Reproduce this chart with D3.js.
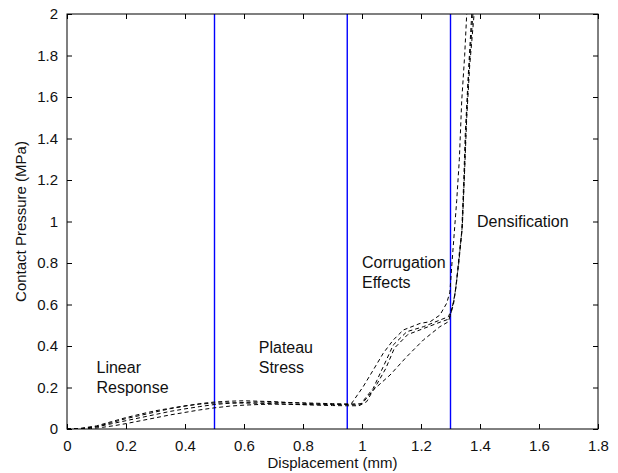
<!DOCTYPE html>
<html>
<head>
<meta charset="utf-8">
<script src="https://cdn.jsdelivr.net/npm/d3@7/dist/d3.min.js"></script>
<style>
  html, body { margin: 0; padding: 0; background: #fff; }
  svg { display: block; }
  text { font-family: "Liberation Sans", Arial, sans-serif; fill: #111; }
</style>
</head>
<body>
<svg id="chart" width="618" height="473"></svg>
<script>
// ---------------- data ----------------
const xTicks = [0, 0.2, 0.4, 0.6, 0.8, 1, 1.2, 1.4, 1.6, 1.8];
const yTicks = [0, 0.2, 0.4, 0.6, 0.8, 1, 1.2, 1.4, 1.6, 1.8, 2];
const phaseBounds = [0.5, 0.95, 1.3];

const curve1X = [0,0.05,0.1,0.15,0.2,0.25,0.3,0.35,0.4,0.45,0.5,0.55,0.6,0.65,0.7,0.75,0.8,0.85,0.9,0.95,0.965,1.004,1.038,1.072,1.106,1.14,1.197,1.231,1.264,1.287,1.298,1.305,1.313,1.321,1.33,1.338,1.348,1.355];
const curve1Y = [0,0.002,0.012,0.03,0.05,0.066,0.082,0.098,0.11,0.122,0.13,0.134,0.136,0.134,0.132,0.128,0.126,0.124,0.122,0.12,0.124,0.204,0.284,0.365,0.429,0.477,0.509,0.517,0.549,0.606,0.66,0.8,0.95,1.1,1.3,1.58,1.8,2.0];

const curve2X = [0,0.06,0.1,0.15,0.2,0.25,0.3,0.35,0.4,0.45,0.5,0.55,0.6,0.65,0.7,0.75,0.8,0.85,0.9,0.95,0.993,1.038,1.072,1.106,1.152,1.208,1.264,1.293,1.31,1.32,1.33,1.338,1.345,1.35,1.36,1.372];
const curve2Y = [0,0.003,0.01,0.025,0.04,0.055,0.07,0.085,0.097,0.108,0.118,0.124,0.128,0.13,0.129,0.127,0.124,0.121,0.12,0.118,0.116,0.196,0.3,0.405,0.469,0.493,0.525,0.541,0.6,0.7,0.85,0.95,1.2,1.42,1.7,2.0];

const curve3X = [0,0.08,0.12,0.16,0.2,0.25,0.3,0.35,0.4,0.45,0.5,0.55,0.6,0.65,0.7,0.75,0.8,0.85,0.9,0.95,0.99,1.016,1.038,1.095,1.152,1.208,1.264,1.293,1.304,1.315,1.328,1.34,1.348,1.355,1.365,1.38];
const curve3Y = [0,0.002,0.008,0.016,0.026,0.04,0.054,0.068,0.08,0.092,0.102,0.11,0.115,0.118,0.12,0.119,0.117,0.115,0.113,0.112,0.112,0.132,0.188,0.26,0.349,0.429,0.493,0.517,0.573,0.65,0.8,0.98,1.25,1.5,1.75,2.0];

const curve4X = [0,0.04,0.1,0.15,0.2,0.25,0.3,0.35,0.4,0.45,0.5,0.55,0.6,0.65,0.7,0.75,0.8,0.85,0.9,0.95,1.0,1.04,1.08,1.11,1.155,1.21,1.265,1.295,1.308,1.318,1.33,1.34,1.347,1.353,1.362,1.376];
const curve4Y = [0,0.002,0.015,0.035,0.055,0.072,0.088,0.1,0.112,0.12,0.125,0.126,0.125,0.124,0.122,0.12,0.118,0.117,0.118,0.12,0.122,0.19,0.29,0.39,0.455,0.485,0.515,0.53,0.59,0.68,0.83,0.97,1.22,1.46,1.72,2.0];

const annotations = [
  { lines: ["Linear", "Response"], x: 0.1, y: 0.27 },
  { lines: ["Plateau", "Stress"], x: 0.65, y: 0.365 },
  { lines: ["Corrugation", "Effects"], x: 1.0, y: 0.775 },
  { lines: ["Densification"], x: 1.39, y: 0.975 }
];

// ---------------- layout ----------------
const svg = d3.select("#chart");
const L = 67, R = 598, T = 14, B = 429;
const x = d3.scaleLinear().domain([0, 1.8]).range([L, R]);
const y = d3.scaleLinear().domain([0, 2]).range([B, T]);

svg.append("defs").append("clipPath").attr("id", "plotclip")
  .append("rect").attr("x", L).attr("y", T).attr("width", R - L).attr("height", B - T);

// axes (ticks inside on all sides)
const fmt = d => (d === 0 ? "0" : d3.format("~g")(d));
const gx = svg.append("g").attr("transform", `translate(0,${B})`)
  .call(d3.axisBottom(x).tickValues(xTicks).tickFormat(fmt).tickSizeInner(-5).tickSizeOuter(0).tickPadding(11));
const gy = svg.append("g").attr("transform", `translate(${L},0)`)
  .call(d3.axisLeft(y).tickValues(yTicks).tickFormat(fmt).tickSizeInner(-5).tickSizeOuter(0).tickPadding(9));
const gt = svg.append("g").attr("transform", `translate(0,${T})`)
  .call(d3.axisTop(x).tickValues(xTicks).tickFormat("").tickSizeInner(-5).tickSizeOuter(0));
const gr = svg.append("g").attr("transform", `translate(${R},0)`)
  .call(d3.axisRight(y).tickValues(yTicks).tickFormat("").tickSizeInner(-5).tickSizeOuter(0));
[gx, gy, gt, gr].forEach(g => {
  g.select(".domain").remove();
  g.selectAll("line").attr("stroke", "#000").attr("stroke-width", 1);
  g.selectAll("text").attr("font-size", 15).attr("fill", "#111")
    .attr("font-family", '"Liberation Sans", Arial, sans-serif');
});

// phase boundary lines
svg.append("g").selectAll("line").data(phaseBounds).join("line")
  .attr("x1", d => x(d)).attr("x2", d => x(d))
  .attr("y1", y(2)).attr("y2", y(0))
  .attr("stroke", "#0000ff").attr("stroke-width", 1.4);

// curves
const curves = [[curve1X, curve1Y], [curve2X, curve2Y], [curve3X, curve3Y], [curve4X, curve4Y]];
const line = d3.line().x(d => x(d[0])).y(d => y(d[1]));
svg.append("g").attr("clip-path", "url(#plotclip)")
  .selectAll("path").data(curves).join("path")
  .attr("d", c => line(c[0].map((v, i) => [v, c[1][i]])))
  .attr("fill", "none").attr("stroke", "#000").attr("stroke-width", 1)
  .attr("stroke-dasharray", "4,3");

// box
svg.append("rect").attr("x", L).attr("y", T).attr("width", R - L).attr("height", B - T)
  .attr("fill", "none").attr("stroke", "#000").attr("stroke-width", 1);

// annotations
const ann = svg.append("g");
annotations.forEach(a => {
  a.lines.forEach((t, i) => {
    ann.append("text").attr("x", x(a.x)).attr("y", y(a.y) + i * 20)
      .attr("font-size", 16).text(t);
  });
});

// axis titles
svg.append("text").attr("x", (L + R) / 2).attr("y", 468)
  .attr("text-anchor", "middle").attr("font-size", 15).text("Displacement (mm)");
svg.append("text").attr("transform", `translate(26,${(T + B) / 2}) rotate(-90)`)
  .attr("text-anchor", "middle").attr("font-size", 15).text("Contact Pressure (MPa)");
</script>
</body>
</html>
